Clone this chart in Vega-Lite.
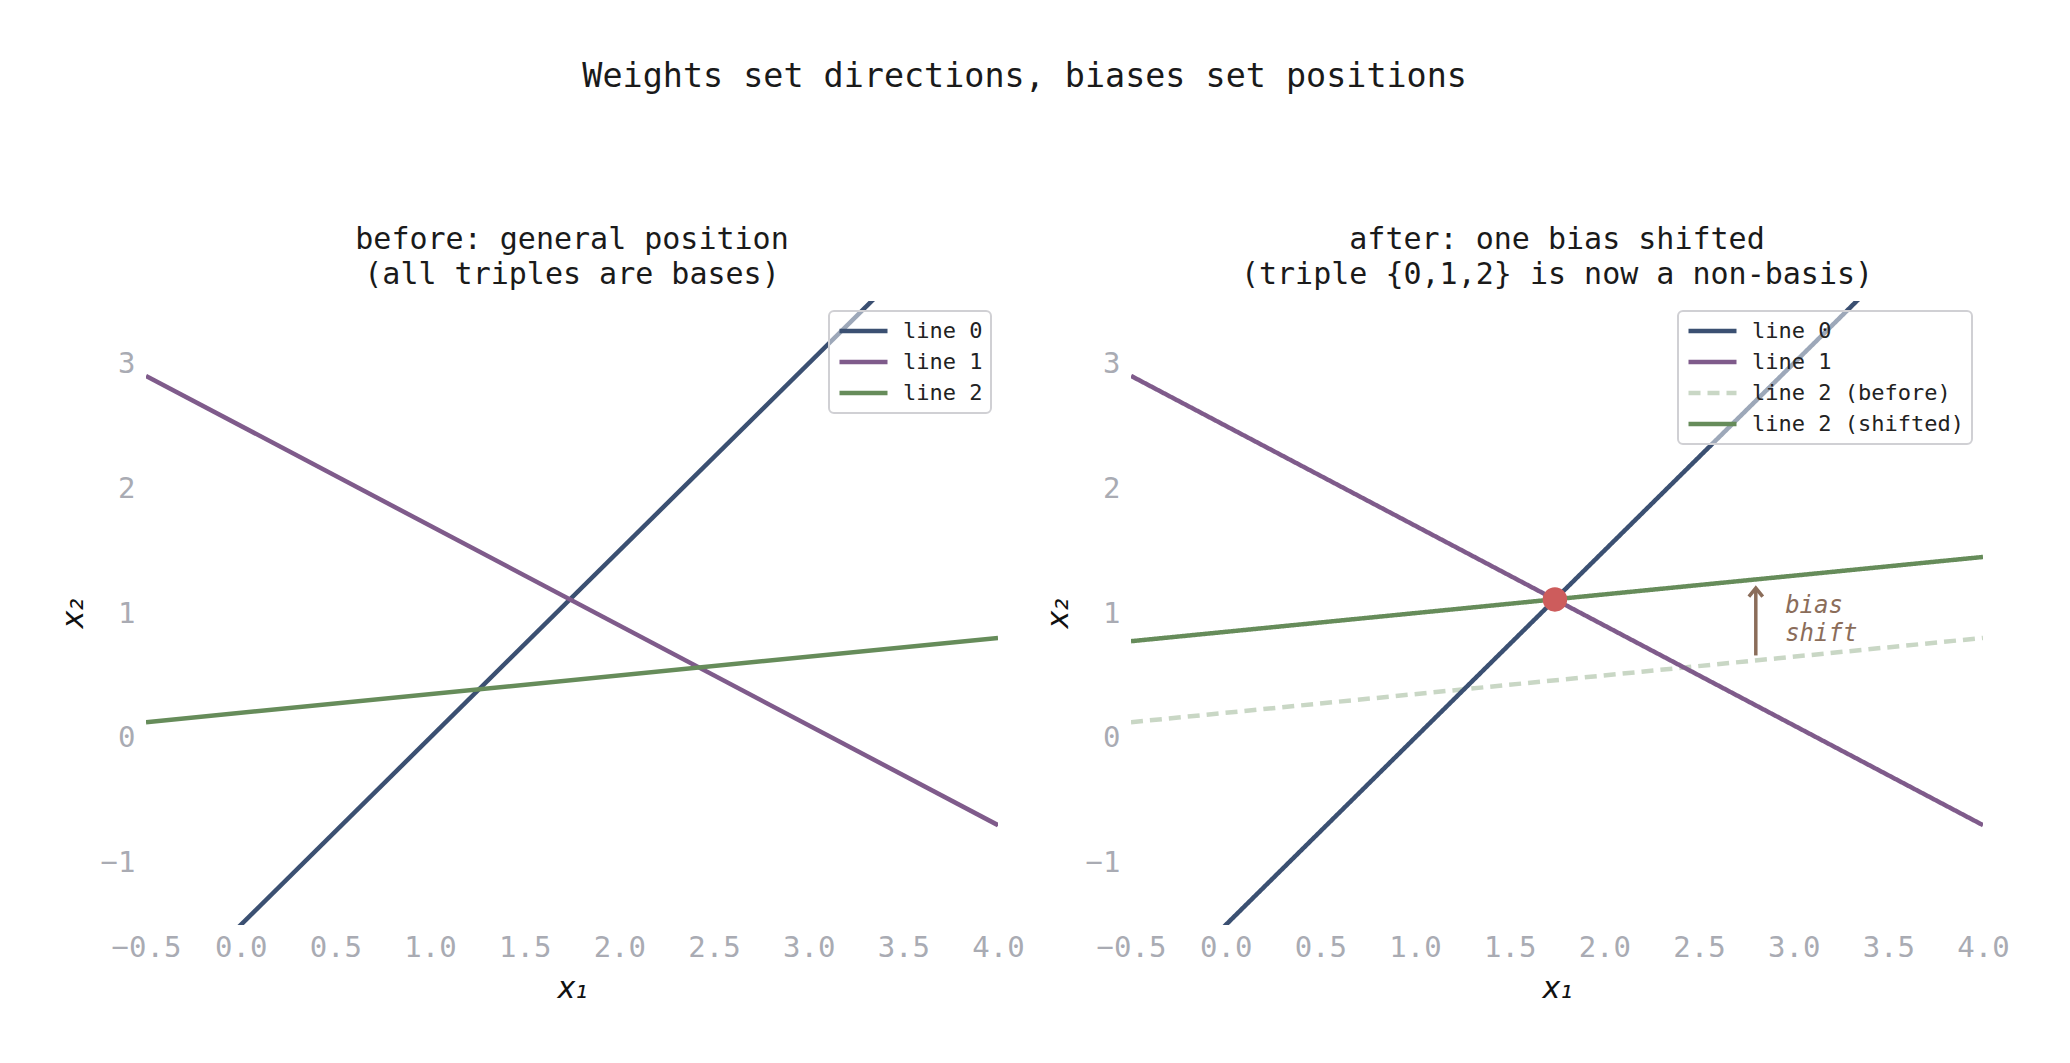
{
  "$schema": "https://vega.github.io/schema/vega-lite/v6.json",
  "background": "white",
  "padding": {"left": 58, "top": 59, "right": 10, "bottom": 10},
  "title": {"text": "Weights set directions, biases set positions", "font": "DejaVu Sans Mono", "fontSize": 33.4, "fontWeight": "normal", "color": "#1a1a1a", "anchor": "middle", "offset": 131, "dx": -9},
  "datasets": {
    "before": [
      {"label": "line 0", "x1": -0.5, "x2": -2.25},
      {"label": "line 0", "x1": 4.0, "x2": 4.5},
      {"label": "line 1", "x1": -0.5, "x2": 2.9},
      {"label": "line 1", "x1": 4.0, "x2": -0.7},
      {"label": "line 2", "x1": -0.5, "x2": 0.125},
      {"label": "line 2", "x1": 4.0, "x2": 0.8}
    ],
    "after": [
      {"label": "line 2 (before)", "x1": -0.5, "x2": 0.125},
      {"label": "line 2 (before)", "x1": 4.0, "x2": 0.8},
      {"label": "line 0", "x1": -0.5, "x2": -2.25},
      {"label": "line 0", "x1": 4.0, "x2": 4.5},
      {"label": "line 1", "x1": -0.5, "x2": 2.9},
      {"label": "line 1", "x1": 4.0, "x2": -0.7},
      {"label": "line 2 (shifted)", "x1": -0.5, "x2": 0.774},
      {"label": "line 2 (shifted)", "x1": 4.0, "x2": 1.449}
    ],
    "dot": [{"x1": 1.739, "x2": 1.109}],
    "arrow": [{"x1": 2.8, "y0": 0.66, "y1": 1.2}],
    "note": [{"x1": 2.955, "x2": 1.06, "text": "bias\nshift"}]
  },
  "spacing": 133,
  "bounds": "flush",
  "hconcat": [
    {
      "width": 852,
      "height": 624,
      "title": {"text": ["before: general position", "(all triples are bases)"]},
      "data": {"name": "before"},
      "mark": {"type": "line", "strokeWidth": 4.5, "clip": true},
      "encoding": {
        "x": {"field": "x1", "type": "quantitative", "scale": {"domain": [-0.5, 4], "nice": false, "zero": false}, "axis": {"values": [-0.5, 0, 0.5, 1, 1.5, 2, 2.5, 3, 3.5, 4], "format": ".1f", "title": "x₁", "titlePadding": 11}},
        "y": {"field": "x2", "type": "quantitative", "scale": {"domain": [-1.5, 3.5], "nice": false, "zero": false}, "axis": {"values": [-1, 0, 1, 2, 3], "format": "d", "title": "x₂", "labelPadding": 11, "titlePadding": 12}},
        "color": {"field": "label", "type": "nominal", "scale": {"domain": ["line 0", "line 1", "line 2"], "range": ["#3b5072", "#7f5b8b", "#668c5a"]}, "legend": {"title": null, "legendX": 683, "legendY": 10}}
      }
    },
    {
      "width": 852,
      "height": 624,
      "title": {"text": ["after: one bias shifted", "(triple {0,1,2} is now a non-basis)"]},
      "layer": [
        {
          "data": {"name": "after"},
          "mark": {"type": "line", "strokeWidth": 4.5, "clip": true},
          "encoding": {
            "x": {"field": "x1", "type": "quantitative", "scale": {"domain": [-0.5, 4], "nice": false, "zero": false}, "axis": {"values": [-0.5, 0, 0.5, 1, 1.5, 2, 2.5, 3, 3.5, 4], "format": ".1f", "title": "x₁", "titlePadding": 11}},
            "y": {"field": "x2", "type": "quantitative", "scale": {"domain": [-1.5, 3.5], "nice": false, "zero": false}, "axis": {"values": [-1, 0, 1, 2, 3], "format": "d", "title": "x₂", "labelPadding": 11, "titlePadding": 12}},
            "color": {"field": "label", "type": "nominal", "scale": {"domain": ["line 0", "line 1", "line 2 (before)", "line 2 (shifted)"], "range": ["#3b5072", "#7f5b8b", "#c9d7c5", "#668c5a"]}, "legend": {"title": null, "legendX": 547, "legendY": 10}},
            "strokeDash": {"field": "label", "type": "nominal", "scale": {"domain": ["line 0", "line 1", "line 2 (before)", "line 2 (shifted)"], "range": [[1, 0], [1, 0], [12, 7], [1, 0]]}, "legend": {"title": null, "legendX": 547, "legendY": 10}}
          }
        },
        {
          "data": {"name": "arrow"},
          "mark": {"type": "rule", "color": "#8b6d5a", "strokeWidth": 3.5},
          "encoding": {
            "x": {"field": "x1", "type": "quantitative"},
            "y": {"field": "y0", "type": "quantitative"},
            "y2": {"field": "y1"}
          }
        },
        {
          "data": {"name": "arrow"},
          "mark": {"type": "point", "shape": "M-0.8,1L0,0L0.8,1", "filled": false, "stroke": "#8b6d5a", "strokeWidth": 3.5, "size": 300, "opacity": 1},
          "encoding": {
            "x": {"field": "x1", "type": "quantitative"},
            "y": {"field": "y1", "type": "quantitative"}
          }
        },
        {
          "data": {"name": "note"},
          "mark": {"type": "text", "align": "left", "baseline": "middle", "font": "DejaVu Sans Mono", "fontStyle": "italic", "fontSize": 24, "color": "#8b6d5a", "lineBreak": "\n", "lineHeight": 28},
          "encoding": {
            "x": {"field": "x1", "type": "quantitative"},
            "y": {"field": "x2", "type": "quantitative"},
            "text": {"field": "text"}
          }
        },
        {
          "data": {"name": "dot"},
          "mark": {"type": "point", "filled": true, "color": "#cd5c5c", "size": 600, "opacity": 1},
          "encoding": {
            "x": {"field": "x1", "type": "quantitative"},
            "y": {"field": "x2", "type": "quantitative"}
          }
        }
      ]
    }
  ],
  "resolve": {"scale": {"color": "independent", "strokeDash": "independent"}, "legend": {"color": "independent", "strokeDash": "independent"}},
  "config": {
    "view": {"stroke": null},
    "title": {"font": "DejaVu Sans Mono", "fontSize": 30, "fontWeight": "normal", "color": "#1a1a1a", "lineHeight": 35, "offset": 11, "anchor": "middle"},
    "axis": {"domain": false, "ticks": false, "grid": false, "labelFont": "DejaVu Sans Mono", "labelFontSize": 29, "labelColor": "#a9abb3", "labelPadding": 8, "labelFlush": false, "titleFont": "DejaVu Sans", "titleFontStyle": "italic", "titleFontWeight": "normal", "titleFontSize": 30, "titleColor": "#111111"},
    "legend": {"orient": "none", "labelFont": "DejaVu Sans Mono", "labelFontSize": 22, "labelColor": "#222222", "labelLimit": 400, "symbolType": "stroke", "symbolStrokeWidth": 4.5, "symbolSize": 2304, "clipHeight": 24, "fillColor": "rgba(255,255,255,0.5)", "strokeColor": "#d0d0d4", "strokeWidth": 2, "cornerRadius": 5, "padding": 8, "rowPadding": 7, "labelOffset": 13}
  }
}
